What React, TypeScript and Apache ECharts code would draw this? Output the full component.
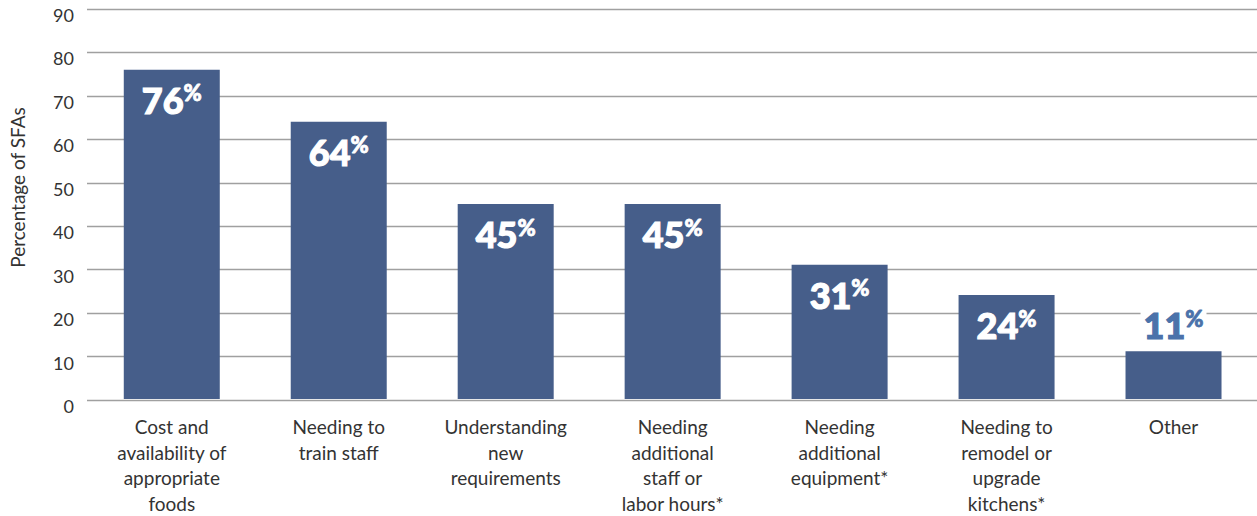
import React, { useEffect, useRef } from "react";
import * as echarts from "echarts";

const categories = [
  "Cost and\navailability of\nappropriate\nfoods",
  "Needing to\ntrain staff",
  "Understanding\nnew\nrequirements",
  "Needing\nadditional\nstaff or\nlabor hours*",
  "Needing\nadditional\nequipment*",
  "Needing to\nremodel or\nupgrade\nkitchens*",
  "Other",
];
const values = [76, 64, 45, 45, 31, 24, 11];
const yTicks = { min: 0, max: 90, interval: 10 };
const yName = "Percentage of SFAs";

const BAR = "#465e8a";
const FONT = "Lato, 'Open Sans', sans-serif";

export default function App() {
  const ref = useRef<HTMLDivElement>(null);
  useEffect(() => {
    if (!ref.current) return;
    const chart = echarts.init(ref.current, undefined, { renderer: "svg" });
    const top = 9;
    const bottom = 116;
    const rich = (color: string) => ({
      n: { fontFamily: FONT, fontSize: 36, fontWeight: 900, color, lineHeight: 36, textBorderColor: color, textBorderWidth: 1.2 },
      p: { fontFamily: FONT, fontSize: 22, fontWeight: 900, color, verticalAlign: "top", lineHeight: 36, padding: [0, 0, 14, 0], textBorderColor: color, textBorderWidth: 0.8 },
    });
    chart.setOption({
      animation: false,
      grid: [
        { left: 80, right: 0, top, bottom },
        { left: 88.3, right: -2.7, top, bottom },
      ],
      xAxis: [
        { gridIndex: 0, type: "category", data: categories, show: false },
        {
          gridIndex: 1,
          type: "category",
          data: categories,
          axisLine: { show: false },
          axisTick: { show: false },
          axisLabel: {
            interval: 0,
            margin: 15,
            verticalAlign: "top",
            fontFamily: FONT,
            fontSize: 19,
            lineHeight: 25.5,
            color: "#333",
          },
        },
      ],
      yAxis: [
        {
          gridIndex: 0,
          type: "value",
          min: yTicks.min,
          max: yTicks.max,
          interval: yTicks.interval,
          name: yName,
          nameLocation: "middle",
          nameGap: 60,
          nameRotate: 90,
          nameTextStyle: {
            fontFamily: FONT,
            fontSize: 19,
            color: "#333",
            padding: [0, 0, 0, 34],
          },
          axisLine: { show: false },
          axisTick: { show: false },
          axisLabel: {
            margin: 13,
            fontFamily: FONT,
            fontSize: 18,
            color: "#333",
            verticalAlign: "top",
            lineHeight: 12,
          },
          splitLine: { lineStyle: { color: "#a0a0a0", width: 1.3 } },
        },
        {
          gridIndex: 1,
          type: "value",
          min: yTicks.min,
          max: yTicks.max,
          interval: yTicks.interval,
          show: false,
          splitLine: { show: false },
        },
      ],
      series: [
        {
          type: "bar",
          xAxisIndex: 1,
          yAxisIndex: 1,
          data: values.map((v) => {
            const small = v < 15;
            return {
              value: v,
              label: small
                ? {
                    position: "top",
                    distance: 8,
                    backgroundColor: "#fff",
                    padding: [3, 3, 0, 3],
                    rich: rich("#4b72aa"),
                  }
                : undefined,
            };
          }),
          barWidth: 96,
          itemStyle: { color: BAR },
          label: {
            show: true,
            position: "insideTop",
            distance: 12,
            formatter: (p: any) => `{n|${p.value}}{p|%}`,
            rich: rich("#ffffff"),
          },
        },
      ],
    });
    return () => chart.dispose();
  }, []);
  return (
    <div
      ref={ref}
      style={{ position: "absolute", left: 0, top: 0, width: 1257, height: 516, background: "#fff" }}
    />
  );
}
